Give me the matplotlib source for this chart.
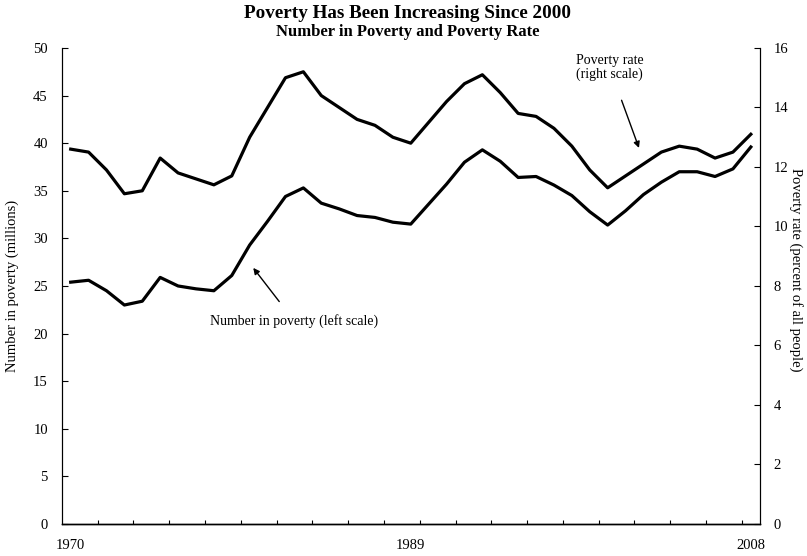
import numpy as np
import matplotlib
matplotlib.use("Agg")
import matplotlib.pyplot as plt

plt.rcParams["font.family"] = ["Liberation Serif", "DejaVu Serif"]

# data (annual 1970-2008)
years = list(range(1970, 2009))
number_in_poverty = [25.4, 25.6, 24.5, 23.0, 23.4, 25.9, 25.0, 24.7, 24.5, 26.1,
                     29.3, 31.8, 34.4, 35.3, 33.7, 33.1, 32.4, 32.2, 31.7, 31.5,
                     33.6, 35.7, 38.0, 39.3, 38.1, 36.4, 36.5, 35.6, 34.5, 32.8,
                     31.4, 32.9, 34.6, 35.9, 37.0, 37.0, 36.5, 37.3, 39.6]
poverty_rate = [12.6, 12.5, 11.9, 11.1, 11.2, 12.3, 11.8, 11.6, 11.4, 11.7,
                13.0, 14.0, 15.0, 15.2, 14.4, 14.0, 13.6, 13.4, 13.0, 12.8,
                13.5, 14.2, 14.8, 15.1, 14.5, 13.8, 13.7, 13.3, 12.7, 11.9,
                11.3, 11.7, 12.1, 12.5, 12.7, 12.6, 12.3, 12.5, 13.1]
x_labels = [1970, 1989, 2008]

fig = plt.figure(figsize=(8.07, 5.56), dpi=100)
ax = fig.add_axes([0.0765, 0.0576, 0.865, 0.8561])
ax2 = ax.twinx()

ax.plot(years, number_in_poverty, color="black", lw=2.3, solid_joinstyle="round")
ax2.plot(years, poverty_rate, color="black", lw=2.3, solid_joinstyle="round")

ax.set_xlim(1969.5, 2008.5)
ax.set_ylim(0, 50)
ax2.set_ylim(0, 16)

ax.set_yticks(np.arange(0, 51, 5))
ax2.set_yticks(np.arange(0, 17, 2))
ax.set_xticks(x_labels)
ax.set_xticks(np.arange(1971.5, 2008, 2), minor=True)

ax.tick_params(axis="y", direction="in", length=4, width=0.8, labelsize=10.5, pad=10)
ax2.tick_params(axis="y", direction="in", length=4, width=0.8, labelsize=10.5, pad=10)
ax.tick_params(axis="x", which="major", length=0, labelsize=10.5, pad=11)
ax.tick_params(axis="x", which="minor", direction="in", length=3, width=0.8)

for a in (ax, ax2):
    a.spines["top"].set_visible(False)
    a.spines["left"].set_linestyle((0, (3, 1)))
    a.spines["right"].set_linestyle((0, (3, 1)))
    a.spines["left"].set_linewidth(0.8)
    a.spines["right"].set_linewidth(0.8)
    a.spines["bottom"].set_linewidth(1.0)

ax.set_ylabel("Number in poverty (millions)", fontsize=10.5, labelpad=10)
fig.text(0.986, 0.515, "Poverty rate (percent of all people)", fontsize=10.5,
         rotation=-90, ha="center", va="center")

fig.text(0.505, 0.975, "Poverty Has Been Increasing Since 2000",
         ha="center", va="center", fontsize=13.8, fontweight="bold")
fig.text(0.505, 0.943, "Number in Poverty and Poverty Rate",
         ha="center", va="center", fontsize=12, fontweight="bold")

ax.annotate("Poverty rate\n(right scale)", xy=(2001.75, 39.5), xytext=(2000.1, 48.0),
            ha="center", va="center", fontsize=10, linespacing=1.05,
            arrowprops=dict(arrowstyle="-|>", color="black", lw=1.0,
                            mutation_scale=9, shrinkA=13, shrinkB=0))
ax.annotate("Number in poverty (left scale)", xy=(1980.2, 26.9), xytext=(1982.5, 21.3),
            ha="center", va="center", fontsize=10,
            arrowprops=dict(arrowstyle="-|>", color="black", lw=1.0,
                            mutation_scale=9, shrinkA=9, shrinkB=0))

fig.savefig("out.png", dpi=100)
